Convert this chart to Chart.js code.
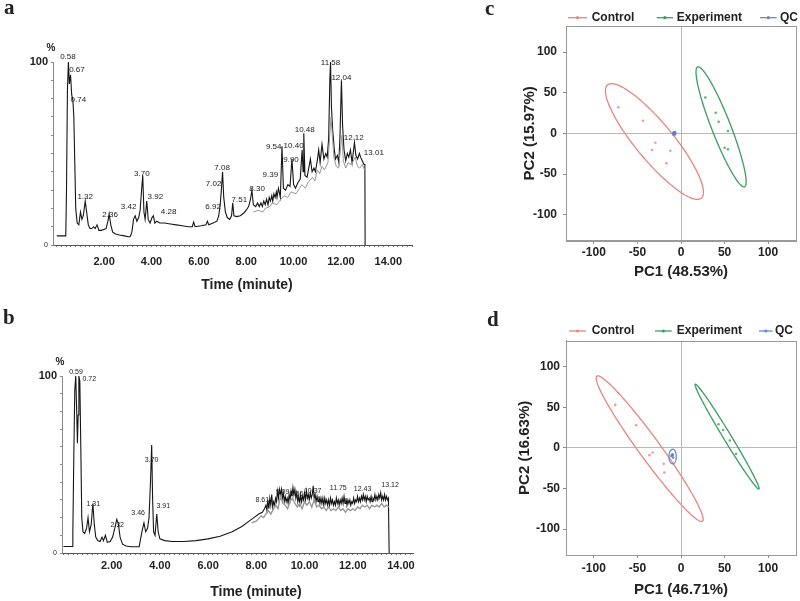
<!DOCTYPE html>
<html>
<head>
<meta charset="utf-8">
<script src="https://cdn.jsdelivr.net/npm/chart.js@4.4.1/dist/chart.umd.min.js"></script>
<style>
  body { margin: 0; background: #fff; }
  #wrap { position: relative; width: 800px; height: 601px; overflow: hidden; background: #fff; }
  canvas { position: absolute; }
</style>
</head>
<body>
<div id="wrap">
  <canvas id="tic-a" width="420" height="300" style="left:0;top:0"></canvas>
  <canvas id="tic-b" width="420" height="301" style="left:0;top:300px"></canvas>
  <canvas id="pca-c" width="320" height="300" style="left:480px;top:0"></canvas>
  <canvas id="pca-d" width="320" height="301" style="left:480px;top:300px"></canvas>
</div>
<script>
// ---- chromatogram a: [time (min), relative abundance %]
const ticA = [
  [0,5],[0.38,5],[0.41,30],[0.45,85],[0.49,100],[0.53,88],[0.58,93],[0.63,82],[0.68,79],[0.72,70],
  [0.76,45],[0.80,20],[0.86,12],[0.93,11],[1.00,18],[1.06,14],[1.12,16],[1.20,24],[1.27,17],[1.33,11],
  [1.40,9],[1.48,9],[1.55,10],[1.62,9],[1.70,11],[1.78,8],[1.88,8],[1.98,8.5],[2.08,9],[2.16,13],
  [2.21,17],[2.28,11],[2.36,7],[2.48,6],[2.65,5.5],[2.85,5],[3.02,4.5],[3.10,4.5],[3.17,7],[3.24,14],
  [3.31,16],[3.38,13],[3.46,15],[3.52,19],[3.58,30],[3.63,38],[3.68,18],[3.73,14],[3.80,24],[3.86,14],
  [3.94,12],[4.02,15],[4.08,16],[4.14,12],[4.22,13],[4.35,12],[4.55,12],[4.80,11.5],[5.05,11],[5.30,10.5],
  [5.55,10],[5.72,10],[5.78,12.5],[5.84,10],[6.10,10.5],[6.30,11],[6.36,13],[6.42,11],[6.60,12],[6.76,13],
  [6.84,16],[6.90,22],[6.95,30],[7.00,40],[7.05,26],[7.12,18],[7.20,15],[7.30,14],[7.38,16],[7.43,23],
  [7.48,16],[7.60,15.5],[7.75,16],[7.90,17.5],[8.00,19],[8.10,21],[8.18,25],[8.24,30],[8.30,22],[8.40,21],
  [8.48,23],[8.55,21],[8.62,23],[8.68,21],[8.74,24],[8.80,22],[8.86,25],[8.92,22],[8.97,26],[9.02,24],
  [9.08,27],[9.12,24],[9.17,28],[9.22,26],[9.27,29],[9.30,26],[9.36,31],[9.44,26],
  [9.51,54],[9.57,31],[9.66,30],[9.76,33],[9.85,32],[9.93,47],[10.00,33],[10.08,31],[10.18,34],[10.28,36],
  [10.36,52],[10.40,40],[10.43,61],[10.48,38],[10.57,37],[10.64,42],[10.71,47],[10.78,40],[10.86,42],[10.92,40],
  [11.00,46],[11.06,52],[11.12,45],[11.20,55],[11.28,47],[11.36,50],[11.42,48],[11.48,58],[11.53,90],[11.56,100],
  [11.60,75],[11.65,63],[11.72,52],[11.77,47],[11.85,49],[11.91,45],[11.96,60],[12.02,90],[12.07,65],[12.13,52],
  [12.20,46],[12.27,50],[12.33,48],[12.40,52],[12.47,45],[12.57,56],[12.63,49],[12.70,47],[12.78,50],[12.83,48],
  [12.90,46],[12.97,44],[13.01,44],[13.02,0]
];
// lighter replicate trace under a
const ticA2 = [
  [8.3,18],[8.5,19],[8.7,18],[8.8,20],[9.0,21],[9.1,23],[9.3,22],[9.4,24],[9.6,27],[9.75,26],
  [9.9,29],[10.1,28],[10.25,31],[10.35,33],[10.5,31],[10.6,34],[10.8,37],[10.9,35],[11.0,41],[11.1,39],
  [11.2,43],[11.3,41],[11.45,45],[11.58,70],[11.7,48],[11.8,43],[11.9,42],[12.04,60],[12.1,46],[12.2,42],
  [12.3,45],[12.45,44],[12.6,48],[12.7,43],[12.8,42],[12.9,44],[13.0,41]
];
const peakTextA = ['0.58','0.67','0.74','1.32','2.36','3.42','3.70','3.92','4.28','6.92','7.02','7.08',
  '7.51','8.30','9.39','9.54','9.90','10.40','10.48','11.58','12.04','12.12','13.01'];
const peakTimeA = [0.47,0.85,0.91,1.20,2.25,3.03,3.59,4.16,4.72,6.60,6.62,6.98,
  7.71,8.46,9.02,9.16,9.89,10.00,10.47,11.56,12.02,12.54,13.39];
const peakLevelA = [103,95.8,79.1,26.4,16.5,20.7,39,26.5,18.1,21,33.5,42.1,
  24.7,30.8,38.5,53.5,46.7,54.4,63.2,99.8,91.6,58.6,50.4];

// ---- chromatogram b
const ticB = [
  [0,3.7],[0.36,3.7],[0.39,12],[0.43,55],[0.47,92],[0.51,100],[0.55,80],[0.58,62],[0.61,78],[0.64,100],
  [0.68,97],[0.72,60],[0.76,20],[0.81,12],[0.88,11],[0.96,14],[1.02,20],[1.08,12],[1.15,16],[1.22,28],
  [1.28,16],[1.34,9],[1.42,7],[1.52,6.5],[1.60,9],[1.66,7],[1.74,10],[1.82,6],[1.94,6.5],[2.04,9],
  [2.13,14],[2.21,19],[2.27,17],[2.35,9],[2.45,5],[2.60,4],[2.80,3.5],[3.00,3.5],[3.14,3.5],[3.20,8],
  [3.27,13],[3.34,17],[3.41,12],[3.49,14],[3.55,20],[3.61,40],[3.66,61],[3.70,30],[3.74,12],[3.80,10],
  [3.87,22],[3.93,12],[4.00,8],[4.20,7],[4.50,6.5],[5.00,6.5],[5.50,7],[6.00,8],[6.50,9.5],[7.00,12],
  [7.40,15],[7.70,18],[7.90,20],[8.10,22],[8.25,23],[8.34,25],
  [8.40,27],[8.44,24],[8.48,30],[8.52,25],[8.56,31],[8.60,27],[8.64,33],[8.68,26],[8.72,29],[8.76,27],
  [8.80,31],[8.84,29],[8.88,35],[8.92,31],[8.96,36],[9.00,33],[9.04,36],[9.08,31],[9.12,34],[9.16,29],
  [9.20,32],[9.24,29],[9.28,31],[9.32,28],[9.36,33],[9.40,30],[9.44,35],[9.48,32],[9.52,37],[9.56,33],
  [9.60,36],[9.64,31],[9.68,34],[9.72,29],[9.76,32],[9.80,28],[9.84,33],[9.88,29],[9.92,32],[9.96,30],
  [10.00,34],[10.04,30],[10.08,35],[10.12,31],[10.16,33],[10.20,30],[10.24,34],[10.28,31],[10.32,33],[10.36,38],
  [10.40,31],[10.44,33],[10.48,29],[10.52,32],[10.56,29],[10.60,32],[10.64,28],[10.68,31],[10.72,28],[10.76,31],
  [10.80,27],[10.84,31],[10.88,28],[10.92,30],[10.96,27],[11.00,30],[11.04,27],[11.08,31],[11.12,28],[11.16,30],
  [11.20,27],[11.24,29],[11.28,27],[11.32,31],[11.36,28],[11.40,30],[11.44,27],[11.48,30],[11.52,28],[11.56,31],
  [11.60,28],[11.64,32],[11.68,28],[11.72,31],[11.76,27],[11.80,30],[11.84,28],[11.88,30],[11.92,27],[11.96,29],
  [12.00,28],[12.04,31],[12.08,28],[12.12,30],[12.16,29],[12.20,32],[12.24,29],[12.28,31],[12.32,29],[12.36,32],
  [12.40,30],[12.44,33],[12.48,30],[12.52,32],[12.56,29],[12.60,32],[12.64,30],[12.68,31],[12.72,29],[12.76,32],
  [12.80,29],[12.84,31],[12.88,30],[12.92,33],[12.96,30],[13.00,32],[13.04,30],[13.08,33],[13.12,31],[13.16,34],
  [13.20,30],[13.24,32],[13.28,30],[13.32,33],[13.36,30],[13.40,32],[13.44,30],[13.48,31],[13.51,0]
];
const ticB2 = [
  [7.8,17],[8.0,18],[8.2,21],[8.3,20],[8.5,24],[8.6,22],[8.8,27],[8.9,25],[9.0,32],[9.1,28],
  [9.2,27],[9.3,25],[9.4,29],[9.5,31],[9.6,28],[9.7,26],[9.8,28],[9.9,25],[10.0,29],[10.1,27],
  [10.2,29],[10.3,26],[10.4,30],[10.5,26],[10.6,27],[10.7,25],[10.8,26],[10.9,24],[11.0,26],[11.1,24],
  [11.2,25],[11.3,24],[11.4,26],[11.5,24],[11.6,25],[11.7,23],[11.8,25],[11.9,24],[12.0,25],[12.1,24],
  [12.2,26],[12.3,25],[12.4,27],[12.5,26],[12.6,27],[12.7,25],[12.8,27],[12.9,26],[13.0,27],[13.1,26],
  [13.2,28],[13.3,26],[13.4,27],[13.5,26]
];
const peakTextB = ['0.59','0.72','1.31','2.32','3.46','3.70','3.91','8.61','9.09','9.56','10.37','11.75','12.43','13.12'];
const peakTimeB = [0.52,1.07,1.24,2.23,3.10,3.66,4.14,8.25,9.09,9.68,10.34,11.40,12.41,13.55];
const peakLevelB = [102.4,98.4,27.9,15.6,22.6,52.6,26.3,29.7,34.7,33.3,35.2,36.7,36.3,38.5];

const timeTickValues = [2, 4, 6, 8, 10, 12, 14];
const timeTickLabels = ['2.00', '4.00', '6.00', '8.00', '10.00', '12.00', '14.00'];
const abundTicks = [0, 10, 20, 30, 40, 50, 60, 70, 80, 90, 100];
const abundLabels = ['0', '', '', '', '', '', '', '', '', '', '100'];

// ---- PCA scores
const groupNames = ['Control', 'Experiment', 'QC'];
const pcTickValues = [-100, -50, 0, 50, 100];

const ctrlPC1c = [-72, -43.6, -29.4, -33.3, -12.2, -16.7];
const ctrlPC2c = [32, 15.5, -11.5, -20.5, -21.4, -36.9];
const expPC1c = [28, 39.8, 43.2, 53.9, 50.1, 53.9];
const expPC2c = [44, 25.3, 14.3, 2.8, -17.7, -19.7];
const qcPC1c = [-8, -7, -8.5, -7.5];
const qcPC2c = [0, -1, 1, 0.5];
// confidence ellipses: [centre PC1, centre PC2, semi-axis a, semi-axis b, angle deg]
const ctrlEllipseC = [-30.5, -10, 88, 22, -52.6];
const expEllipseC = [46, 8, 78.5, 11, -70];
const qcEllipseC = [-7.8, 0, 2.6, 1.6, 60];

const ctrlPC1d = [-75.4, -51.4, -36.2, -32.5, -19.9, -19.1];
const ctrlPC2d = [52.9, 27.9, -9, -5.8, -19.7, -30.4];
const expPC1d = [43, 48.3, 56, 63.2];
const expPC2d = [29, 22, 9, -7.4];
const qcPC1d = [-10, -9, -11, -9.5];
const qcPC2d = [-8, -12, -10, -9];
const ctrlEllipseD = [-36, -1, 108, 12.5, -55.9];
const expEllipseD = [52.9, 13.8, 74.2, 4.5, -60.5];
const qcEllipseD = [-9.6, -10.7, 9, 4.2, 90];

const ink = '#222';
const sans = 'Arial, "Liberation Sans", Helvetica, sans-serif';
const serif = '"Liberation Serif", "Times New Roman", serif';
Chart.defaults.font.family = sans;
Chart.defaults.color = ink;

const toPoints = rows => rows.map(([x, y]) => ({ x, y }));
const zip = (xs, ys) => xs.map((x, i) => ({ x, y: ys[i] }));

// minor tick marks every 0.2 min along the time axis
const minorTimeTicks = [];
for (let i = 0; i <= 75; i++) minorTimeTicks.push(Math.round(i * 2) / 10);

function ticChart(id, p) {
  const canvas = document.getElementById(id);
  const W = canvas.width, H = canvas.height;
  const decor = {
    id: 'ticDecor',
    afterDraw(chart) {
      const { ctx, chartArea: area, scales: { x, y } } = chart;
      ctx.save();
      ctx.fillStyle = ink;
      ctx.textAlign = 'center';
      ctx.textBaseline = 'middle';
      ctx.font = p.peakFont;
      p.peakText.forEach((t, i) => {
        ctx.fillText(t, x.getPixelForValue(p.peakTime[i]), y.getPixelForValue(p.peakLevel[i]));
      });
      ctx.font = 'bold 10px ' + sans;
      ctx.fillText('%', area.left - 2, area.top - 14);
      ctx.font = 'bold 14px ' + sans;
      ctx.fillText('Time (minute)', area.left + 194, p.titleY);
      ctx.textAlign = 'left';
      ctx.textBaseline = 'alphabetic';
      ctx.font = 'bold 21px ' + serif;
      ctx.fillText(p.letter, p.letterX, p.letterY);
      ctx.restore();
    }
  };
  return new Chart(canvas, {
    type: 'scatter',
    data: {
      datasets: [
        { data: toPoints(p.grey), showLine: true, borderColor: '#989898', borderWidth: p.greyWidth, pointRadius: 0 },
        { data: toPoints(p.trace), showLine: true, borderColor: '#161616', borderWidth: 1.1, pointRadius: 0 }
      ]
    },
    options: {
      responsive: false,
      animation: false,
      devicePixelRatio: 1,
      layout: { padding: { left: 0, top: p.top, right: W - p.right, bottom: 0 } },
      plugins: { legend: { display: false }, tooltip: { enabled: false } },
      scales: {
        x: {
          type: 'linear', min: p.xMin, max: p.xMax,
          afterBuildTicks: s => {
            s.ticks = minorTimeTicks.filter(v => v >= p.xMin && v <= p.xMax).map(v => ({ value: v }));
          },
          afterFit: s => { s.height = H - p.bottom; },
          ticks: {
            autoSkip: false, maxRotation: 0, padding: p.tickPad, color: ink,
            font: { size: 11, weight: 'bold' },
            callback: v => {
              const k = timeTickValues.indexOf(v);
              return k < 0 ? '' : timeTickLabels[k];
            }
          },
          grid: { drawOnChartArea: false, tickLength: 2, tickColor: '#777' },
          border: { color: '#555' }
        },
        y: {
          min: 0, max: 100,
          afterBuildTicks: s => { s.ticks = abundTicks.map(v => ({ value: v })); },
          afterFit: s => { s.width = p.left; },
          ticks: {
            autoSkip: false, padding: 3, color: ink,
            font: c => (c.tick && c.tick.value === 100) ? { size: 11, weight: 'bold' } : { size: 7 },
            callback: v => abundLabels[abundTicks.indexOf(v)]
          },
          grid: { drawOnChartArea: false, tickLength: 2, tickColor: '#888' },
          border: { color: '#8a8a8a' }
        }
      }
    },
    plugins: [decor]
  });
}

function pcaChart(id, p) {
  const canvas = document.getElementById(id);
  const W = canvas.width, H = canvas.height;
  const decor = {
    id: 'pcaDecor',
    beforeDatasetsDraw(chart) {
      const { ctx, scales: { x, y } } = chart;
      ctx.save();
      p.ellipses.forEach((e, gi) => {
        const [cx, cy, a, b, deg] = e;
        const th = deg * Math.PI / 180;
        ctx.beginPath();
        for (let k = 0; k <= 180; k++) {
          const s = k / 180 * 2 * Math.PI;
          const dx = a * Math.cos(s) * Math.cos(th) - b * Math.sin(s) * Math.sin(th);
          const dy = a * Math.cos(s) * Math.sin(th) + b * Math.sin(s) * Math.cos(th);
          const px = x.getPixelForValue(cx + dx), py = y.getPixelForValue(cy + dy);
          if (k) ctx.lineTo(px, py); else ctx.moveTo(px, py);
        }
        ctx.closePath();
        ctx.strokeStyle = p.colors[gi];
        ctx.lineWidth = 1.3;
        ctx.stroke();
      });
      ctx.restore();
    },
    afterDraw(chart) {
      const { ctx, chartArea: area } = chart;
      ctx.save();
      ctx.strokeStyle = '#9a9a9a';
      ctx.lineWidth = 1;
      ctx.strokeRect(Math.round(area.left) + 0.5, Math.round(area.top) + 0.5,
        Math.round(area.right - area.left), Math.round(area.bottom - area.top));
      // legend
      ctx.font = 'bold 12px ' + sans;
      ctx.textBaseline = 'middle';
      ctx.textAlign = 'left';
      p.legend.forEach((it, i) => {
        const ly = p.legendY;
        ctx.strokeStyle = p.colors[i];
        ctx.lineWidth = 1.3;
        ctx.beginPath();
        ctx.moveTo(it[0], ly);
        ctx.lineTo(it[1], ly);
        ctx.stroke();
        ctx.fillStyle = p.colors[i];
        ctx.beginPath();
        ctx.arc((it[0] + it[1]) / 2, ly, 1.6, 0, 2 * Math.PI);
        ctx.fill();
        ctx.fillStyle = ink;
        ctx.fillText(groupNames[i], it[2], ly);
      });
      ctx.font = 'bold 21px ' + serif;
      ctx.textBaseline = 'alphabetic';
      ctx.fillText(p.letter, p.letterX, p.letterY);
      ctx.restore();
    }
  };
  const axis = (title, extra) => Object.assign({
    type: 'linear', min: -132, max: 132,
    afterBuildTicks: s => { s.ticks = pcTickValues.map(v => ({ value: v })); },
    ticks: { autoSkip: false, maxRotation: 0, color: ink, font: { size: 12, weight: 'bold' } },
    grid: {
      color: c => (c.tick && c.tick.value === 0) ? '#b9b9b9' : 'rgba(0,0,0,0)',
      tickColor: '#888', tickLength: 3
    },
    border: { color: '#9a9a9a' },
    title: { display: true, text: title, color: ink, font: { size: 15, weight: 'bold' } }
  }, extra);
  const xAxis = axis(p.xTitle, { afterFit: s => { s.height = H - p.bottom; } });
  xAxis.ticks.padding = p.xTickPad;
  xAxis.title.padding = { top: 0, bottom: p.xTitlePad };
  const yAxis = axis(p.yTitle, { afterFit: s => { s.width = p.left; } });
  yAxis.ticks.padding = p.yTickPad;
  yAxis.title.padding = { top: p.yTitlePad, bottom: 0 };
  return new Chart(canvas, {
    type: 'scatter',
    data: {
      datasets: p.points.map((pts, i) => ({
        data: pts, pointRadius: 1.3, borderWidth: 0, backgroundColor: p.dots[i]
      }))
    },
    options: {
      responsive: false,
      animation: false,
      devicePixelRatio: 1,
      layout: { padding: { left: 0, top: p.top, right: W - p.right, bottom: 0 } },
      plugins: { legend: { display: false }, tooltip: { enabled: false } },
      scales: { x: xAxis, y: yAxis }
    },
    plugins: [decor]
  });
}

ticChart('tic-a', {
  trace: ticA, grey: ticA2, greyWidth: 1,
  peakText: peakTextA, peakTime: peakTimeA, peakLevel: peakLevelA, peakFont: '8px ' + sans,
  left: 53, right: 412, top: 62, bottom: 245, xMin: -0.16, xMax: 15.0,
  tickPad: 8, titleY: 285, letter: 'a', letterX: 4, letterY: 14
});
ticChart('tic-b', {
  trace: ticB, grey: ticB2, greyWidth: 1.4,
  peakText: peakTextB, peakTime: peakTimeB, peakLevel: peakLevelB, peakFont: '7px ' + sans,
  left: 62, right: 413, top: 76, bottom: 253, xMin: -0.06, xMax: 14.5,
  tickPad: 4, titleY: 291.7, letter: 'b', letterX: 3, letterY: 24
});

const pcaColorsC = ['#e8857c', '#3b9d5f', '#7c7fc6'];
const pcaColorsD = ['#e8857c', '#3b9d5f', '#5b8fd2'];
const dotColors = ['rgba(232,133,124,0.8)', 'rgba(59,157,95,0.8)', 'rgba(110,115,200,0.9)'];

pcaChart('pca-c', {
  points: [zip(ctrlPC1c, ctrlPC2c), zip(expPC1c, expPC2c), zip(qcPC1c, qcPC2c)],
  ellipses: [ctrlEllipseC, expEllipseC, qcEllipseC],
  colors: pcaColorsC, dots: dotColors,
  left: 86, right: 316.7, top: 26, bottom: 240.7,
  xTitle: 'PC1 (48.53%)', yTitle: 'PC2 (15.97%)',
  xTickPad: 2, yTickPad: 6, xTitlePad: 19, yTitlePad: 41,
  legendY: 17.7, legend: [[88, 107, 111.7], [176.7, 193, 196.7], [280, 296.7, 300]],
  letter: 'c', letterX: 5, letterY: 15
});
pcaChart('pca-d', {
  points: [zip(ctrlPC1d, ctrlPC2d), zip(expPC1d, expPC2d), zip(qcPC1d, qcPC2d)],
  ellipses: [ctrlEllipseD, expEllipseD, qcEllipseD],
  colors: pcaColorsD, dots: dotColors,
  left: 86, right: 316.7, top: 40.7, bottom: 255,
  xTitle: 'PC1 (46.71%)', yTitle: 'PC2 (16.63%)',
  xTickPad: 3, yTickPad: 3, xTitlePad: 2, yTitlePad: 36,
  legendY: 31, legend: [[89, 106, 111.7], [175, 191.7, 196.7], [279, 292.7, 295]],
  letter: 'd', letterX: 7, letterY: 26
});
</script>
</body>
</html>
